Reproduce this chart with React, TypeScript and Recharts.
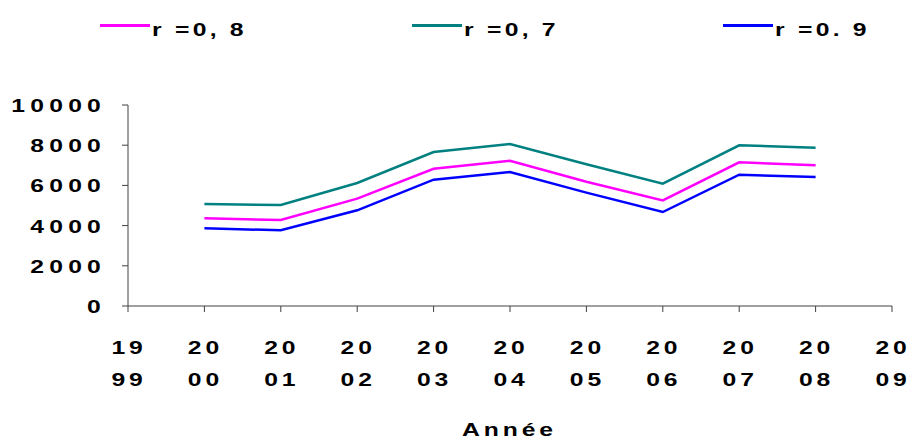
import { LineChart, Line, XAxis, YAxis, Legend } from 'recharts';

// Years on the category axis; first and last have no values
const years = ['1999', '2000', '2001', '2002', '2003', '2004', '2005', '2006', '2007', '2008', '2009'];

const r08 = [null, 4360, 4280, 5340, 6830, 7230, 6185, 5255, 7150, 7000, null];
const r07 = [null, 5075, 5025, 6120, 7660, 8060, 7050, 6085, 7995, 7875, null];
const r09 = [null, 3865, 3765, 4760, 6285, 6665, 5640, 4675, 6530, 6420, null];

const yTicks = [0, 2000, 4000, 6000, 8000, 10000];

const series = [
  { key: 'r08', name: 'r =0, 8', color: '#ff00ff' },
  { key: 'r07', name: 'r =0, 7', color: '#008080' },
  { key: 'r09', name: 'r =0. 9', color: '#0000ff' },
];

const data = years.map((year, i) => ({
  year,
  r08: r08[i],
  r07: r07[i],
  r09: r09[i],
}));

const FONT = '"Liberation Sans", Arial, sans-serif';
// all labels use a horizontally stretched bold face
const STRETCH = 1.3;

function YTick({ y, payload }: any) {
  return (
    <text
      transform={`translate(106, ${y + 7}) scale(${STRETCH}, 1)`}
      textAnchor="end"
      fontFamily={FONT}
      fontWeight="bold"
      fontSize={19}
      letterSpacing={4}
      fill="#000"
    >
      {payload.value}
    </text>
  );
}

// Year labels are split over two lines: "20" / "04"
function XTick({ x, y, payload }: any) {
  const v = String(payload.value);
  return (
    <text
      transform={`translate(${x + 1}, ${y}) scale(${STRETCH}, 1)`}
      textAnchor="middle"
      fontFamily={FONT}
      fontWeight="bold"
      fontSize={19}
      letterSpacing={3}
      fill="#000"
    >
      <tspan x={0} y={40.5}>{v.slice(0, 2)}</tspan>
      <tspan x={0} y={72.5}>{v.slice(2)}</tspan>
    </text>
  );
}

function LegendContent() {
  return (
    <div style={{ position: 'relative', width: 911, height: 40 }}>
      {series.map((s, i) => {
        const left = [100, 412, 723][i];
        return (
          <div key={s.key}>
            <div
              style={{
                position: 'absolute',
                left,
                top: 23.5,
                width: 50,
                height: 3,
                background: s.color,
              }}
            />
            <div
              style={{
                position: 'absolute',
                left: left + 52,
                top: 18.5,
                fontFamily: FONT,
                fontWeight: 'bold',
                fontSize: 19,
                letterSpacing: 2.5,
                color: '#000',
                whiteSpace: 'pre',
                transform: `scaleX(${STRETCH})`,
                transformOrigin: 'left center',
              }}
            >
              {s.name}
            </div>
          </div>
        );
      })}
    </div>
  );
}

export default function App() {
  return (
    <div style={{ position: 'absolute', left: 0, top: 0, width: 911, height: 448, background: '#fff' }}>
      <LineChart
        width={911}
        height={448}
        data={data}
        margin={{ top: 65, right: 19, left: 0, bottom: 112 }}
      >
        <Legend
          verticalAlign="top"
          content={<LegendContent />}
          wrapperStyle={{ top: 0, left: 0, width: 911 }}
        />
        <XAxis
          dataKey="year"
          height={30}
          stroke="#404040"
          tickLine={{ stroke: '#404040' }}
          tickSize={6}
          tick={<XTick />}
          interval={0}
        />
        <YAxis
          width={128}
          domain={[0, 10000]}
          ticks={yTicks}
          stroke="#404040"
          tickLine={{ stroke: '#404040' }}
          tickSize={6}
          tick={<YTick />}
          interval={0}
        />
        {series.map((s) => (
          <Line
            key={s.key}
            type="linear"
            dataKey={s.key}
            name={s.name}
            stroke={s.color}
            strokeWidth={2.5}
            dot={false}
            isAnimationActive={false}
          />
        ))}
      </LineChart>
      <div
        style={{
          position: 'absolute',
          left: 462,
          top: 419,
          fontFamily: FONT,
          fontWeight: 'bold',
          fontSize: 19,
          letterSpacing: 3,
          color: '#000',
          whiteSpace: 'pre',
          transform: `scaleX(${STRETCH})`,
          transformOrigin: 'left center',
        }}
      >
        Année
      </div>
    </div>
  );
}
